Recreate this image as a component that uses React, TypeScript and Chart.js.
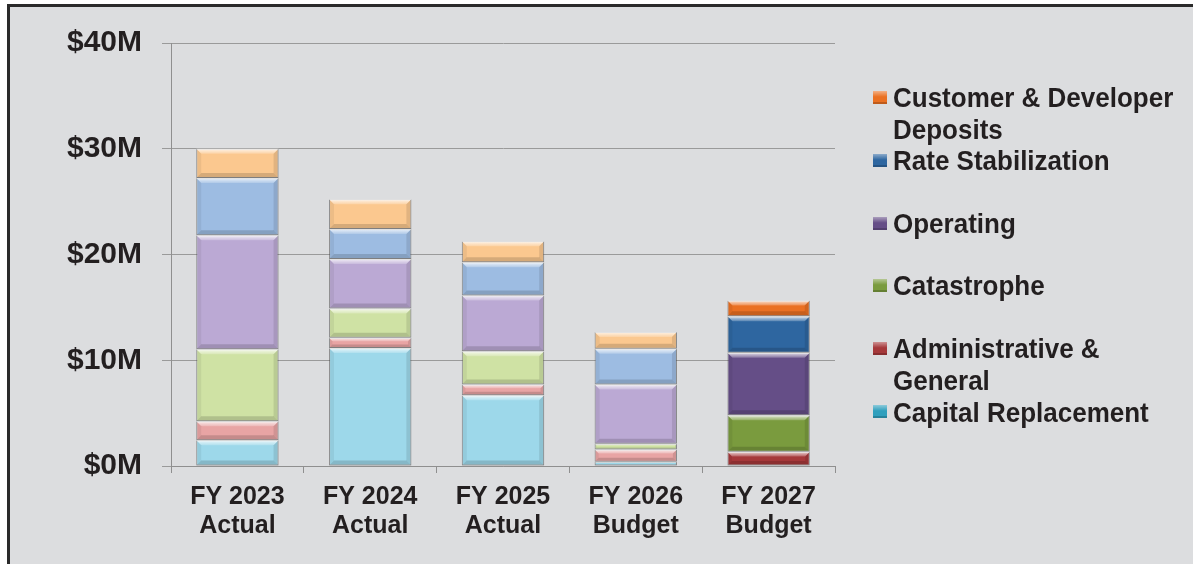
import React, { useEffect, useRef } from "react";
import { Chart, registerables } from "chart.js";

Chart.register(...registerables);

const categories: string[][] = [
  ["FY 2023", "Actual"],
  ["FY 2024", "Actual"],
  ["FY 2025", "Actual"],
  ["FY 2026", "Budget"],
  ["FY 2027", "Budget"],
];
const yTickValues = [0, 10, 20, 30, 40];

const capitalReplacement = [2.44, 11.17, 6.69, 0.4, 0];
const adminGeneral = [1.79, 0.95, 1.01, 1.16, 1.34];
const catastrophe = [6.81, 2.77, 3.15, 0.54, 3.46];
const operating = [10.77, 4.69, 5.27, 5.6, 5.9];
const rateStabilization = [5.43, 2.84, 3.14, 3.38, 3.46];
const customerDeposits = [2.76, 2.8, 1.99, 1.6, 1.48];

const seriesNames = [
  "Capital Replacement",
  "Administrative & General",
  "Catastrophe",
  "Operating",
  "Rate Stabilization",
  "Customer & Developer Deposits",
];
const seriesValues = [
  capitalReplacement,
  adminGeneral,
  catastrophe,
  operating,
  rateStabilization,
  customerDeposits,
];
const pastelColors = ["#9dd8ea", "#e8a4a4", "#cfe2a4", "#bba9d4", "#9dbce2", "#fbc88f"];
const strongColors = ["#2f9fbd", "#a5383a", "#7a9b3e", "#654e87", "#2e66a0", "#ea7022"];

const FONT = "'Liberation Sans', Arial, sans-serif";
const TEXT = "#231f20";

const bevelPlugin = {
  id: "bevel",
  afterDatasetsDraw(chart: any) {
    const ctx = chart.ctx;
    chart.data.datasets.forEach((_ds: any, di: number) => {
      const meta = chart.getDatasetMeta(di);
      meta.data.forEach((bar: any) => {
        const left = bar.x - bar.width / 2;
        const right = bar.x + bar.width / 2;
        const top = Math.min(bar.y, bar.base);
        const bottom = Math.max(bar.y, bar.base);
        const h = bottom - top;
        if (h < 1) return;
        const b = Math.min(5, h / 3);
        ctx.save();
        let g = ctx.createLinearGradient(0, top, 0, top + b);
        g.addColorStop(0, "rgba(255,255,255,0.8)");
        g.addColorStop(1, "rgba(255,255,255,0.2)");
        ctx.fillStyle = g;
        ctx.beginPath();
        ctx.moveTo(left, top);
        ctx.lineTo(right, top);
        ctx.lineTo(right - b, top + b);
        ctx.lineTo(left + b, top + b);
        ctx.closePath();
        ctx.fill();
        ctx.fillStyle = "rgba(0,0,0,0.15)";
        ctx.beginPath();
        ctx.moveTo(left, bottom);
        ctx.lineTo(right, bottom);
        ctx.lineTo(right - b, bottom - b);
        ctx.lineTo(left + b, bottom - b);
        ctx.closePath();
        ctx.fill();
        ctx.fillStyle = "rgba(0,0,0,0.06)";
        ctx.beginPath();
        ctx.moveTo(left, top);
        ctx.lineTo(left + b, top + b);
        ctx.lineTo(left + b, bottom - b);
        ctx.lineTo(left, bottom);
        ctx.closePath();
        ctx.fill();
        ctx.fillStyle = "rgba(0,0,0,0.1)";
        ctx.beginPath();
        ctx.moveTo(right, top);
        ctx.lineTo(right - b, top + b);
        ctx.lineTo(right - b, bottom - b);
        ctx.lineTo(right, bottom);
        ctx.closePath();
        ctx.fill();
        ctx.restore();
      });
    });
  },
};

const legendItems = [
  { idx: 5, lines: ["Customer & Developer", "Deposits"], center: 97 },
  { idx: 4, lines: ["Rate Stabilization"], center: 160 },
  { idx: 3, lines: ["Operating"], center: 223 },
  { idx: 2, lines: ["Catastrophe"], center: 285 },
  { idx: 1, lines: ["Administrative &", "General"], center: 348 },
  { idx: 0, lines: ["Capital Replacement"], center: 411.5 },
];

export default function App() {
  const canvasRef = useRef<HTMLCanvasElement | null>(null);

  useEffect(() => {
    if (!canvasRef.current) return;
    const chart = new Chart(canvasRef.current, {
      type: "bar",
      data: {
        labels: categories as any,
        datasets: seriesNames.map((name, i) => ({
          label: name,
          data: seriesValues[i],
          backgroundColor: categories.map((_c, ci) => (ci === 4 ? strongColors[i] : pastelColors[i])),
          borderColor: "rgba(90,90,90,0.55)",
          borderWidth: 1,
          borderSkipped: false,
          barPercentage: 0.62,
          categoryPercentage: 1,
        })),
      },
      options: {
        responsive: false,
        animation: false,
        maintainAspectRatio: false,
        layout: { padding: { left: 0, right: 358, top: 43, bottom: 0 } },
        plugins: { legend: { display: false }, tooltip: { enabled: false } },
        scales: {
          x: {
            stacked: true,
            offset: true,
            grid: {
              offset: true,
              drawOnChartArea: false,
              drawTicks: true,
              tickLength: 7,
              color: "#8f8f8f",
            },
            border: { display: true, color: "#8f8f8f", width: 1 },
            ticks: {
              color: TEXT,
              font: { family: FONT, size: 25, weight: "bold", lineHeight: 1.16 },
              padding: 10,
              maxRotation: 0,
              autoSkip: false,
            },
            afterFit: (scale: any) => {
              scale.height = 564 - 466;
            },
          },
          y: {
            stacked: true,
            min: 0,
            max: 40,
            afterBuildTicks: (scale: any) => {
              scale.ticks = yTickValues.map((v) => ({ value: v }));
            },
            grid: { color: "#9a9a9a", tickLength: 9, lineWidth: 1 },
            border: { display: true, color: "#8f8f8f", width: 1 },
            ticks: {
              color: TEXT,
              font: { family: FONT, size: 30, weight: "bold" },
              padding: 20,
              callback: (v: any) => `$${v}M`,
            },
            afterFit: (scale: any) => {
              scale.width = 171;
            },
          },
        },
      },
      plugins: [bevelPlugin],
    });
    return () => chart.destroy();
  }, []);

  return (
    <div style={{ position: "absolute", left: 0, top: 0, width: 1193, height: 564, background: "#ffffff", overflow: "hidden" }}>
      <div
        style={{
          position: "absolute",
          left: 7,
          top: 4,
          width: 1200,
          height: 600,
          background: "#dcdddf",
          borderTop: "3px solid #2a2a2a",
          borderLeft: "3px solid #2a2a2a",
        }}
      />
      <canvas ref={canvasRef} width={1193} height={564} style={{ position: "absolute", left: 0, top: 0, width: 1193, height: 564 }} />
      {legendItems.map((item) => {
        const top = item.center - 14.7;
        return (
          <React.Fragment key={item.idx}>
            <div
              style={{
                position: "absolute",
                left: 873,
                top: item.center - 6.5,
                width: 14,
                height: 13,
                background: `linear-gradient(180deg, rgba(255,255,255,0.45) 0%, rgba(255,255,255,0) 45%), ${strongColors[item.idx]}`,
                boxShadow: "inset 0 -2px 0 rgba(0,0,0,0.18)",
              }}
            />
            <div
              style={{
                position: "absolute",
                left: 893,
                top,
                fontFamily: FONT,
                fontWeight: "bold",
                fontSize: 26,
                lineHeight: "30px",
                color: TEXT,
                whiteSpace: "nowrap",
                transform: "scaleY(1.07)",
                transformOrigin: "0 14.7px",
              }}
            >
              {item.lines.map((l, li) => (
                <div key={li}>{l}</div>
              ))}
            </div>
          </React.Fragment>
        );
      })}
    </div>
  );
}
